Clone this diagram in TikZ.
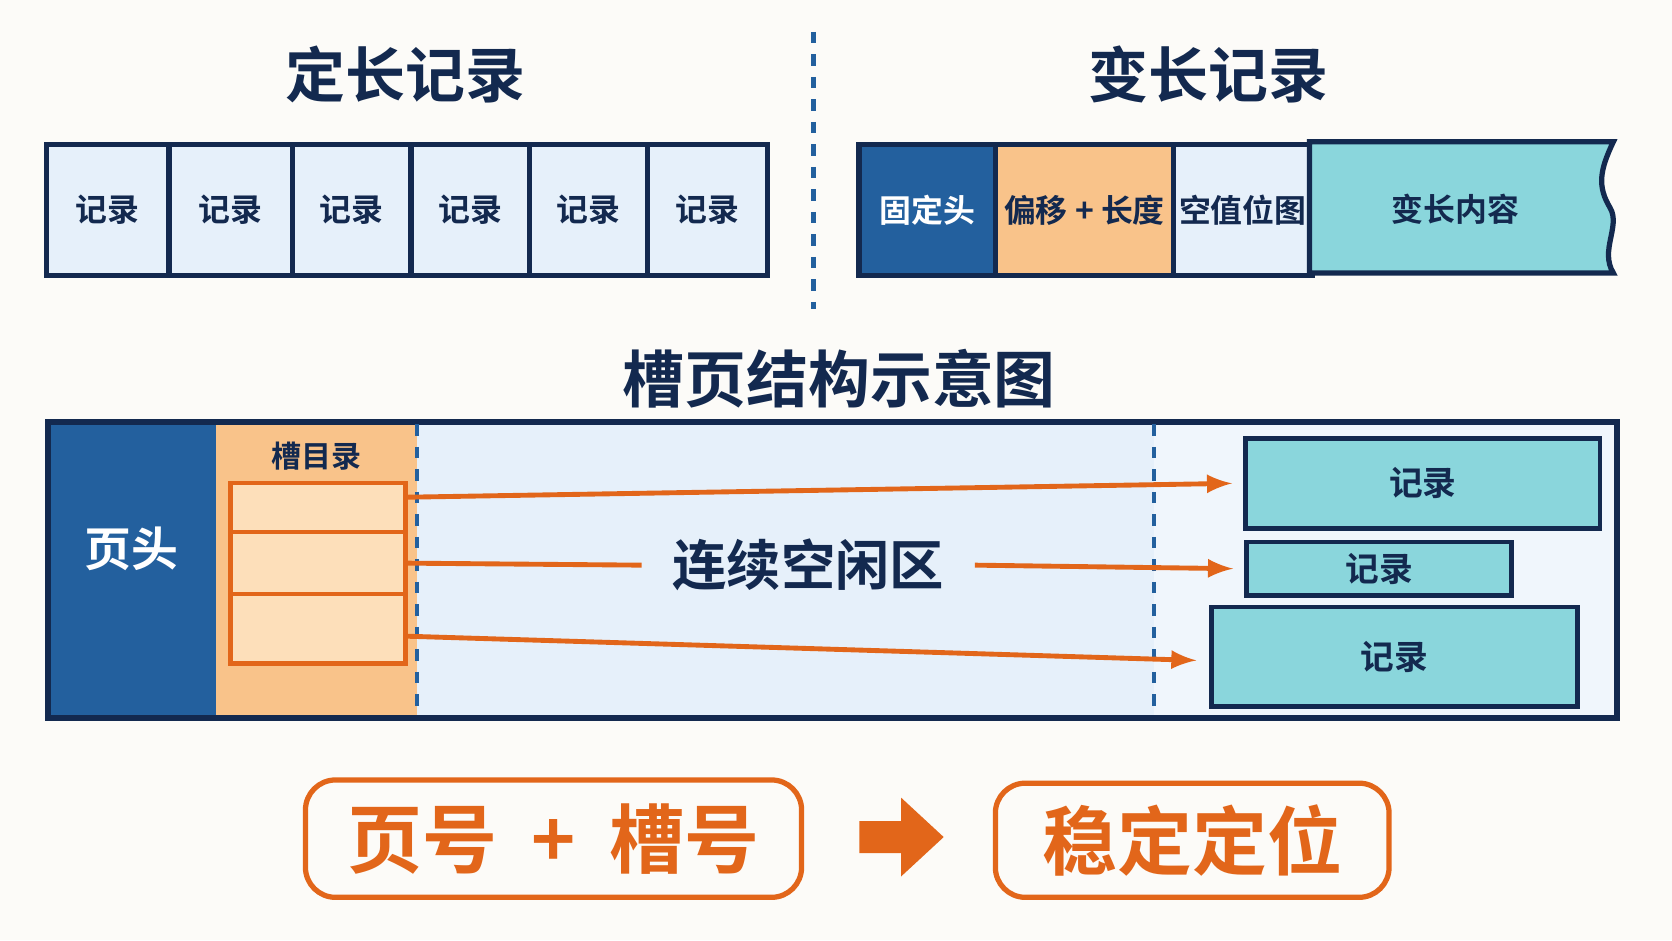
\documentclass[tikz,border=0pt]{standalone}
\usepackage{fontspec}
\setmainfont{Noto Sans CJK SC}[BoldFont={Noto Sans CJK SC Bold}]
\usetikzlibrary{positioning}
\definecolor{navy}{HTML}{13294F}
\definecolor{hblue}{HTML}{23609E}
\definecolor{pale}{HTML}{E6F0FA}
\definecolor{peach}{HTML}{F9C38A}
\definecolor{lpeach}{HTML}{FDDFBA}
\definecolor{teal}{HTML}{8AD6DC}
\definecolor{orng}{HTML}{E2661A}
\definecolor{bg}{HTML}{FCFBF8}
\tikzset{
	cell/.style={draw=navy, line width=1.4pt, fill=pale, text=navy, font=\bfseries\fontsize{8.5}{9}\selectfont, minimum height=1.23cm, inner sep=0pt},
	rec/.style={draw=navy, line width=1.3pt, fill=teal, text=navy, font=\bfseries\fontsize{9}{10}\selectfont, inner sep=0pt},
	slot/.style={draw=orng, line width=1.2pt, fill=lpeach, minimum width=1.64cm, inner sep=0pt},
	title/.style={text=navy, font=\bfseries\fontsize{16}{17}\selectfont},
	big/.style={draw=orng, line width=1.4pt, rounded corners=8pt, fill=bg, text=orng, font=\bfseries\fontsize{20}{21}\selectfont, inner sep=0pt},
	arr/.style={orng, line width=1.3pt, ->, >=latex},
}
\begin{document}
\begin{tikzpicture}[x=0.01cm, y=-0.01cm]
	\fill[bg] (0,0) rectangle (1568,882);
	% fixed-length records
	\node[title] (tf) at (380,70) {定长记录};
	\foreach \a/\b [count=\i] in {41/156,156/272,272/383,383/494,494/605,605/717}
		\node[cell, minimum width={(\b-\a)*0.01cm}, anchor=north west] (f\i) at (\a,133) {记录};
	\draw[hblue, dashed, line width=1.3pt] (763,30) -- (763,290);
	% variable-length records
	\node[title] (tv) at (1133,70) {变长记录};
	\node[cell, fill=hblue, text=white, minimum width=1.28cm, anchor=north west] (v1) at (803,133) {固定头};
	\node[cell, fill=peach, minimum width=1.67cm, anchor=north west] (v2) at (931,133) {偏移 + 长度};
	\node[cell, minimum width=1.30cm, anchor=north west] (v3) at (1098,133) {空值位图};
	\filldraw[draw=navy, line width=1.4pt, fill=teal] (1228,133) -- (1513,133)
		.. controls (1500,160) and (1498,175) .. (1510,195)
		.. controls (1520,212) and (1500,235) .. (1513,256) -- (1228,256) -- cycle;
	\node[text=navy, font=\bfseries\fontsize{8.5}{9}\selectfont] (v4) at (1365,196) {变长内容};
	% slotted page
	\node[title, font=\bfseries\fontsize{16.5}{17}\selectfont] (ts) at (787,355) {槽页结构示意图};
	\fill[pale] (391,396) rectangle (1082,673);
	\fill[pale!60] (1082,396) rectangle (1516,673);
	\fill[hblue] (45,396) rectangle (203,673);
	\fill[peach] (203,396) rectangle (391,673);
	\draw[navy, line width=1.6pt] (45,396) rectangle (1516,673);
	\draw[hblue, dashed, line width=1.2pt] (391,398) -- (391,671);
	\draw[hblue, dashed, line width=1.2pt] (1082,398) -- (1082,671);
	\node[text=white, font=\bfseries\fontsize{12.5}{13}\selectfont] (ph) at (123,515) {页头};
	\node[text=navy, font=\bfseries\fontsize{8}{9}\selectfont] (sd) at (297,428) {槽目录};
	\node[slot, minimum height=0.46cm, anchor=north west] (s1) at (214,451) {};
	\node[slot, minimum height=0.58cm, anchor=north west] (s2) at (214,497) {};
	\node[slot, minimum height=0.65cm, anchor=north west] (s3) at (214,555) {};
	\node[rec, minimum width=3.32cm, minimum height=0.84cm, anchor=north west] (r1) at (1166,409) {记录};
	\node[rec, minimum width=2.48cm, minimum height=0.50cm, anchor=north west] (r2) at (1167,506) {记录};
	\node[rec, minimum width=3.43cm, minimum height=0.93cm, anchor=north west] (r3) at (1134,567) {记录};
	\node[text=navy, font=\bfseries\fontsize{14.5}{15}\selectfont, fill=pale, inner xsep=8pt] (fr) at (758,530) {连续空闲区};
	\draw[arr] ([yshift=2.8pt]s1.east) -- ([xshift=-3pt]r1.west);
	\draw[orng, line width=1.3pt] (s2.east) -- (fr.west);
	\draw[arr] (fr.east) -- ([xshift=-3pt]r2.west);
	\draw[arr] ([yshift=-2pt]s3.east) -- ([xshift=-3.4pt,yshift=-1pt]r3.west);
	% bottom
	\node[big, minimum width=4.65cm, minimum height=1.10cm, anchor=north west] (b1) at (284,729) {页号\ \ +\ \ 槽号};
	\node[big, minimum width=3.69cm, minimum height=1.07cm, anchor=north west] (b2) at (931,732) {稳定定位};
	\fill[orng] (806,770) -- (845,770) -- (845,748) -- (885,785) -- (845,822) -- (845,800) -- (806,800) -- cycle;
\end{tikzpicture}
\end{document}
